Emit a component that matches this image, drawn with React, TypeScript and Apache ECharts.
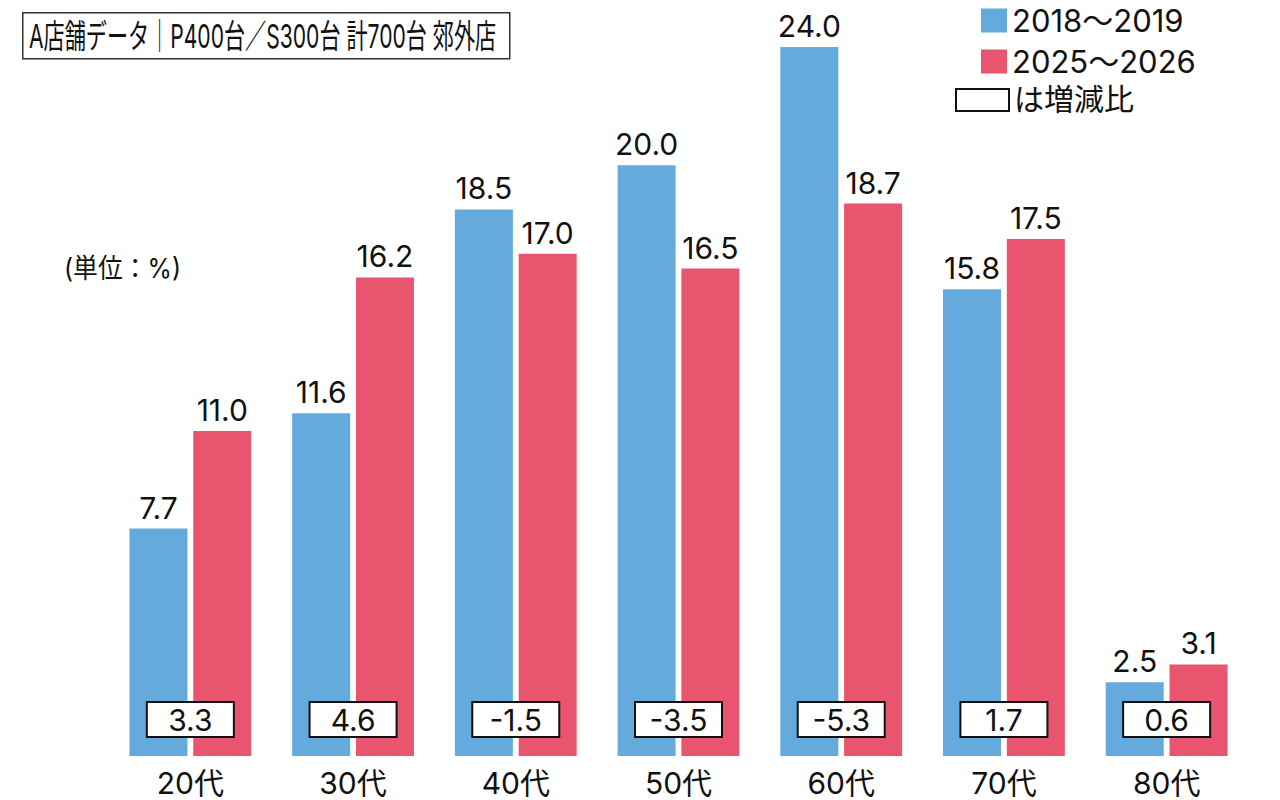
import React, { useEffect, useRef } from "react";
import * as echarts from "echarts";

const categories = ["20代", "30代", "40代", "50代", "60代", "70代", "80代"];
const seriesNames = ["2018～2019", "2025～2026"];
const values2018 = [7.7, 11.6, 18.5, 20.0, 24.0, 15.8, 2.5];
const values2025 = [11.0, 16.2, 17.0, 16.5, 18.7, 17.5, 3.1];
// 増減比（表示値そのまま）
const diffs = [3.3, 4.6, -1.5, -3.5, -5.3, 1.7, 0.6];

const titleText = "A店舗データ｜P400台／S300台 計700台 郊外店";
const unitText = "(単位：%)";
const diffLegendText = "は増減比";

const FONT = "Inter, 'Noto Sans CJK JP', sans-serif";
const BLUE = "#65aadd";
const RED = "#e9546e";
const INK = "#111";

export default function App() {
  const chartRef = useRef<HTMLDivElement>(null);

  useEffect(() => {
    if (!chartRef.current) return;
    const chart = echarts.init(chartRef.current, null, { renderer: "svg" });

    const barLabel = {
      show: true,
      position: "top",
      distance: 6,
      fontSize: 30,
      fontFamily: FONT,
      color: INK,
      formatter: (p: any) => Number(p.value).toFixed(1),
    };

    chart.setOption({
      animation: false,
      textStyle: { fontFamily: FONT },
      grid: { left: 109, width: 1139, top: 47, height: 709 },
      legend: {
        data: seriesNames,
        orient: "vertical",
        left: 981,
        top: 5,
        padding: 0,
        itemWidth: 26,
        itemHeight: 24,
        itemGap: 10,
        icon: "rect",
        selectedMode: false,
        textStyle: { fontSize: 31, lineHeight: 29, color: INK, fontFamily: FONT },
      },
      xAxis: {
        type: "category",
        data: categories,
        axisLine: { show: false },
        axisTick: { show: false },
        axisLabel: { fontSize: 30, lineHeight: 28, color: INK, margin: 13, fontFamily: FONT },
      },
      yAxis: { type: "value", min: 0, max: 24, show: false },
      series: [
        {
          name: seriesNames[0],
          type: "bar",
          data: values2018,
          barWidth: 58,
          barGap: "10%",
          itemStyle: { color: BLUE },
          label: barLabel,
        },
        {
          name: seriesNames[1],
          type: "bar",
          data: values2025,
          barWidth: 58,
          barGap: "10%",
          itemStyle: { color: RED },
          label: barLabel,
        },
        {
          name: "増減比",
          type: "custom",
          z: 5,
          clip: false,
          encode: { x: 0, y: 1 },
          data: diffs.map((d, i) => [i, d]),
          renderItem: (_params: any, api: any) => {
            const idx = api.value(0);
            const d = api.value(1);
            const [cx, by] = api.coord([idx, 0]);
            return {
              type: "group",
              children: [
                {
                  type: "rect",
                  shape: { x: cx - 43.5, y: by - 54, width: 87, height: 35 },
                  style: { fill: "#fff", stroke: INK, lineWidth: 2 },
                },
                {
                  type: "text",
                  style: {
                    x: cx,
                    y: by - 36,
                    text: Number(d).toFixed(1),
                    align: "center",
                    verticalAlign: "middle",
                    fontSize: 30,
                    fontFamily: FONT,
                    fill: INK,
                  },
                },
              ],
            };
          },
        },
      ],
      graphic: [
        {
          type: "rect",
          left: 22,
          top: 12,
          shape: { width: 487, height: 46 },
          style: { fill: "#fff", stroke: "#333", lineWidth: 1.5 },
        },
        {
          type: "text",
          x: 29,
          y: 36,
          scaleX: 0.64,
          style: {
            text: titleText,
            fontSize: 33,
            fontFamily: FONT,
            fill: INK,
            verticalAlign: "middle",
          },
        },
        {
          type: "text",
          x: 64,
          y: 268,
          scaleX: 0.92,
          style: {
            text: unitText,
            fontSize: 27,
            fontFamily: FONT,
            fill: INK,
            verticalAlign: "middle",
          },
        },
        {
          type: "rect",
          left: 955,
          top: 88,
          shape: { width: 53, height: 22 },
          style: { fill: "#fff", stroke: INK, lineWidth: 2 },
        },
        {
          type: "text",
          x: 1014,
          y: 99,
          style: {
            text: diffLegendText,
            fontSize: 30,
            fontFamily: FONT,
            fill: INK,
            verticalAlign: "middle",
          },
        },
      ],
    });

    return () => {
      chart.dispose();
    };
  }, []);

  return (
    <div
      ref={chartRef}
      style={{ position: "absolute", left: 0, top: 0, width: "1280px", height: "800px", background: "#fff" }}
    />
  );
}
